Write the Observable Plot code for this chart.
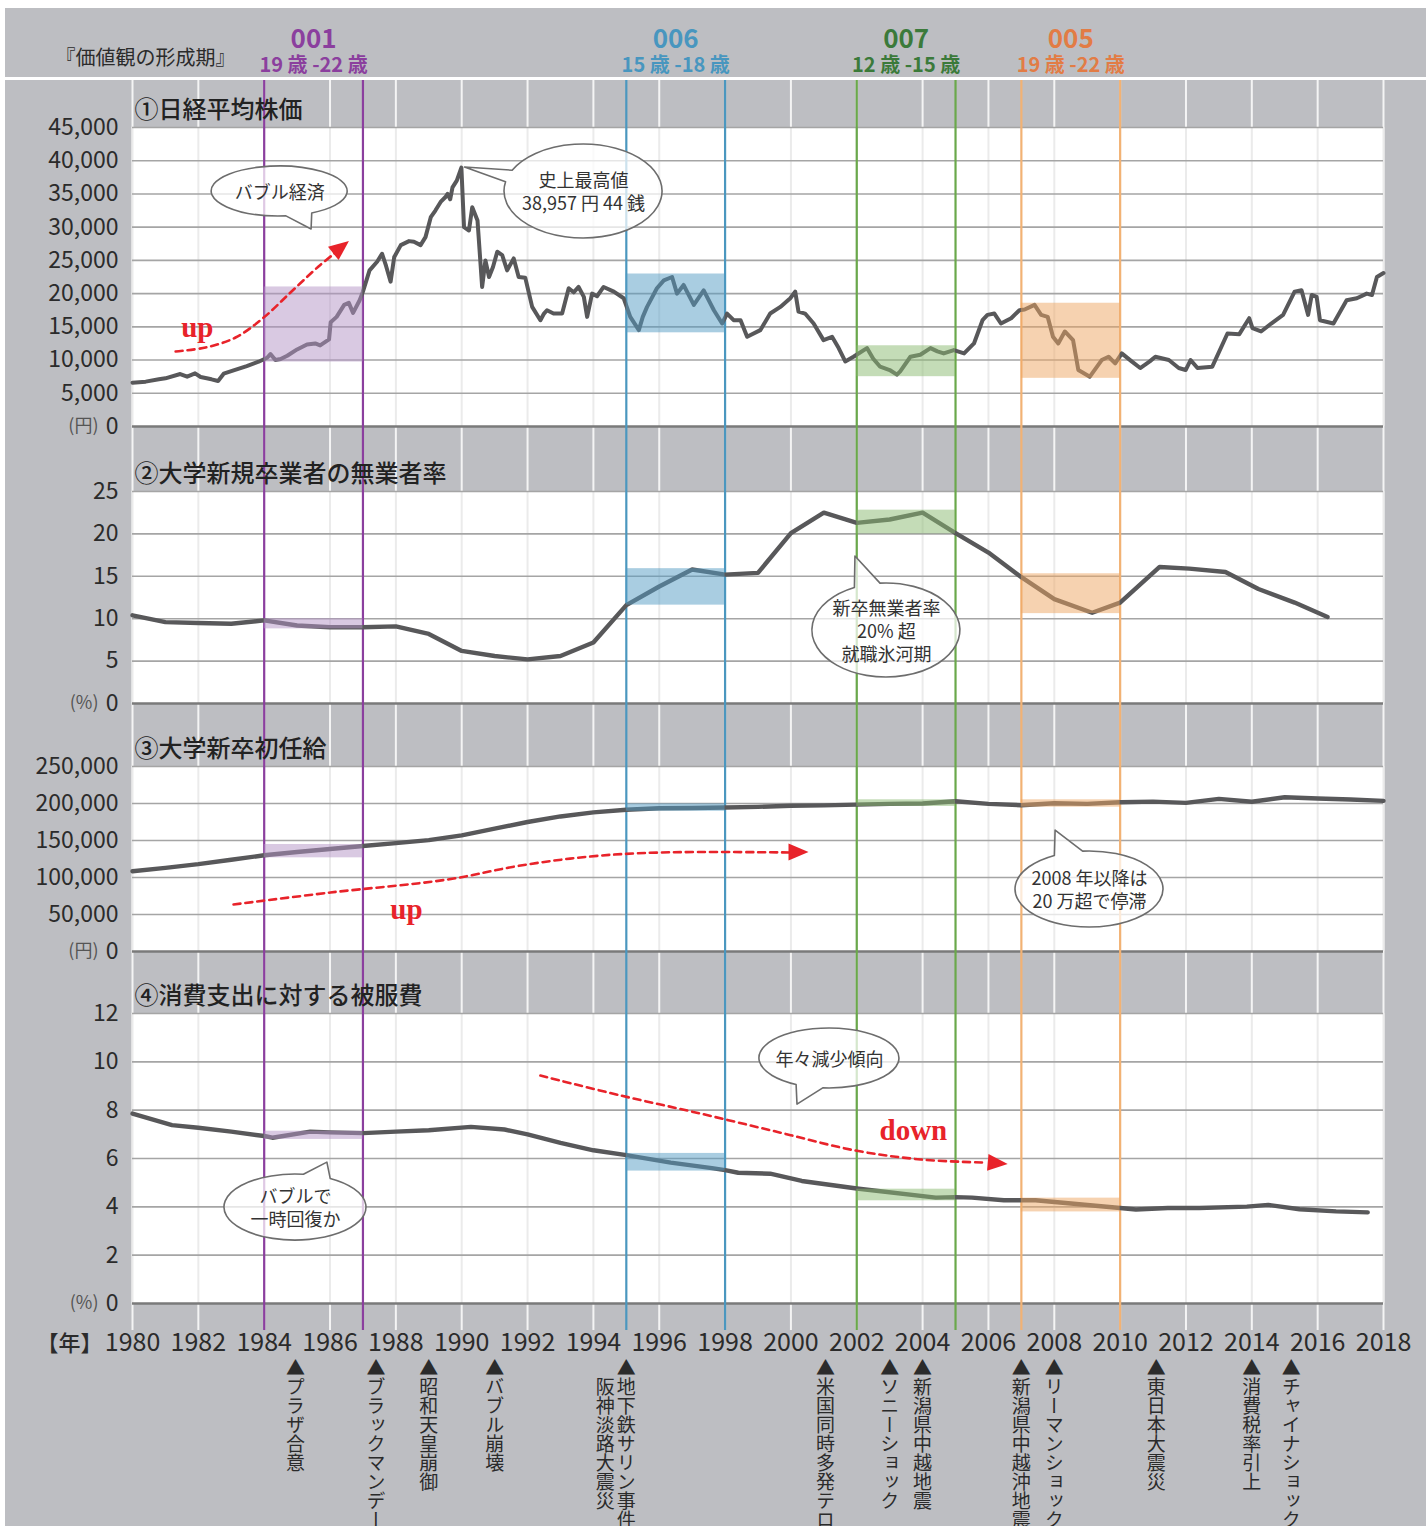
<!DOCTYPE html>
<html><head><meta charset="utf-8">
<script src="https://cdn.jsdelivr.net/npm/d3@7"></script>
<script src="https://cdn.jsdelivr.net/npm/@observablehq/plot@0.6"></script>
<style>
body{margin:0;background:#fff;}
#wrap{position:absolute;left:5px;top:8px;width:1421px;background:#bdbec2;font-family:"Noto Sans CJK JP","Noto Sans",sans-serif;}
#wrap svg{display:block;overflow:visible}
.sep{height:3px;background:#fff}
</style></head><body><div id="wrap"></div>
<script>
// ---------- data ----------
const evenYears = d3.range(1980, 2019, 2);

const periodIds = ["001", "006", "007", "005"];
const periodAges = ["19 歳 -22 歳", "15 歳 -18 歳", "12 歳 -15 歳", "19 歳 -22 歳"];
const periodStart = [1984, 1995, 2002, 2007];
const periodEnd = [1987, 1998, 2005, 2010];

const nikkei = [
  [1980.0,6600],[1980.4,6750],[1980.8,7100],[1981.0,7250],[1981.45,7900],[1981.66,7500],[1981.9,8000],
  [1982.07,7450],[1982.4,7100],[1982.6,6850],[1982.77,7950],[1983.07,8450],[1983.47,9100],[1983.83,9750],
  [1984.09,10350],[1984.19,10900],[1984.34,10000],[1984.5,10150],[1984.7,10650],[1985.0,11600],[1985.3,12350],
  [1985.55,12500],[1985.7,12200],[1985.97,13100],[1986.02,15700],[1986.2,16500],[1986.43,18300],[1986.57,18600],
  [1986.7,17100],[1986.9,19000],[1987.0,20300],[1987.2,23500],[1987.43,24800],[1987.58,26000],[1987.7,24200],
  [1987.84,21800],[1987.95,25500],[1988.15,27300],[1988.4,27900],[1988.55,27800],[1988.75,27300],[1988.9,28500],
  [1989.06,31500],[1989.2,32500],[1989.36,33800],[1989.5,34500],[1989.57,35000],[1989.65,34200],[1989.72,36000],
  [1989.85,37000],[1989.99,38957],[1990.07,30000],[1990.22,29500],[1990.32,33000],[1990.48,31000],[1990.62,21000],
  [1990.72,25000],[1990.83,22500],[1990.95,24000],[1991.08,26300],[1991.23,25800],[1991.38,23500],[1991.58,25300],
  [1991.73,22500],[1991.93,22400],[1992.14,18000],[1992.39,16000],[1992.5,17000],[1992.59,17500],[1992.79,17000],
  [1993.05,17000],[1993.25,20800],[1993.4,20200],[1993.55,21000],[1993.71,19500],[1993.81,16500],[1993.96,20000],
  [1994.11,19600],[1994.31,21000],[1994.62,20300],[1994.92,19300],[1995.12,16500],[1995.38,14500],[1995.5,16500],
  [1995.63,18000],[1995.93,20800],[1996.14,22000],[1996.39,22500],[1996.54,20000],[1996.74,21300],[1997.05,18300],
  [1997.35,20500],[1997.66,17500],[1997.91,15500],[1998.06,17000],[1998.26,16000],[1998.47,16000],[1998.67,13500],
  [1999.07,14500],[1999.37,17000],[1999.68,18000],[1999.98,19300],[2000.13,20300],[2000.23,17300],[2000.43,17000],
  [2000.69,15500],[2000.99,13000],[2001.25,13500],[2001.45,11800],[2001.65,9800],[2001.9,10500],[2002.31,11800],
  [2002.5,10200],[2002.71,9000],[2003.0,8500],[2003.22,7800],[2003.32,8300],[2003.63,10500],[2003.93,10800],
  [2004.24,11800],[2004.45,11300],[2004.64,11000],[2004.95,11500],[2005.26,11000],[2005.56,12500],[2005.82,16000],
  [2005.97,16800],[2006.18,17000],[2006.38,15500],[2006.69,16300],[2006.94,17500],[2007.1,17600],[2007.4,18300],
  [2007.6,16800],[2007.8,16500],[2007.96,13500],[2008.12,12500],[2008.32,14300],[2008.57,13000],[2008.73,8500],
  [2009.08,7500],[2009.44,10000],[2009.65,10500],[2009.85,9500],[2010.05,11000],[2010.35,9800],[2010.61,8800],
  [2010.9,9800],[2011.07,10500],[2011.48,10000],[2011.78,8800],[2011.99,8500],[2012.14,10000],[2012.35,8800],
  [2012.8,9000],[2013.26,14000],[2013.62,13900],[2013.92,16300],[2014.02,14800],[2014.28,14300],[2014.59,15500],
  [2014.95,16800],[2015.3,20300],[2015.51,20500],[2015.71,16800],[2015.82,19800],[2015.97,19500],[2016.07,16000],
  [2016.48,15500],[2016.88,19000],[2017.19,19300],[2017.49,20000],[2017.65,19800],[2017.8,22500],[2018.0,23100]
];
const unemployment = [
  [1980,10.4],[1981,9.6],[1982,9.5],[1983,9.4],[1984,9.8],[1985,9.2],[1986,9.0],[1987,9.0],[1988,9.1],
  [1989,8.2],[1990,6.2],[1991,5.6],[1992,5.2],[1993,5.6],[1994,7.2],[1995,11.6],[1996,13.8],[1997,15.8],
  [1998,15.2],[1999,15.4],[2000,20.1],[2001,22.5],[2002,21.3],[2003,21.7],[2004,22.5],[2005,20.1],[2006,17.8],
  [2007,14.9],[2008,12.3],[2009.15,10.7],[2010,11.9],[2011.2,16.1],[2012.1,15.9],[2013.2,15.5],[2014.2,13.5],
  [2015.3,11.9],[2016.3,10.2]
];
const salary = [
  [1980,108500],[1981,113000],[1982,118000],[1983,124000],[1984,130000],[1985,134500],[1986,138500],
  [1987,142500],[1988,146500],[1989,150500],[1990,157000],[1991,166000],[1992,175000],[1993,182500],
  [1994,188000],[1995,191500],[1996,193500],[1997,194000],[1998,194500],[1999,195500],[2000,197000],
  [2001,197500],[2002,198500],[2003,199500],[2004,200000],[2005,203000],[2006,199500],[2007,197700],
  [2008,200400],[2009,199500],[2010,201700],[2011,202500],[2012,200900],[2013,206300],[2014,202300],
  [2015,208500],[2016,206700],[2017,205400],[2018,203600]
];
const clothing = [
  [1980,7.86],[1981.2,7.38],[1982,7.27],[1983,7.11],[1984,6.93],[1984.25,6.86],[1985.4,7.11],[1986,7.08],
  [1987,7.05],[1988,7.11],[1989,7.17],[1990.28,7.31],[1991.3,7.2],[1992,7.0],[1993,6.65],[1994,6.34],
  [1995,6.14],[1996.35,5.83],[1997.6,5.6],[1998,5.52],[1998.4,5.41],[1999.37,5.37],[2000.33,5.07],[2002,4.76],
  [2004.4,4.38],[2005,4.4],[2005.5,4.38],[2006.47,4.27],[2007.43,4.27],[2010,3.95],[2010.48,3.89],
  [2011.45,3.95],[2012.4,3.95],[2013.85,4.01],[2014.5,4.08],[2015.45,3.9],[2016.56,3.81],[2017.52,3.77]
];

// highlight band value ranges for each period (low, high)
const nikkeiBands = [[9700,21000],[14100,22950],[7500,12150],[7250,18550]];
const unemploymentBands = [[8.8,10.0],[11.6,15.9],[20.0,22.8],[10.6,15.3]];
const salaryBands = [[126600,144600],[189500,199500],[196000,205000],[195000,205000]];
const clothingBands = [[6.79,7.13],[5.48,6.21],[4.25,4.73],[3.79,4.36]];

const eventYears = [1984.95, 1987.4, 1989, 1991, 1995, 2001.05, 2003, 2004, 2007, 2008, 2011.1, 2014, 2015.2];
const eventLabels = ["プラザ合意","ブラックマンデー","昭和天皇崩御","バブル崩壊","地下鉄サリン事件\n阪神淡路大震災",
  "米国同時多発テロ","ソニーショック","新潟県中越地震","新潟県中越沖地震","リーマンショック","東日本大震災","消費税率引上","チャイナショック"];

// annotation anchors (data coordinates)
const nikkeiUpArrow = [[1981.31,11290],[1982.22,11890],[1983.13,13390],[1983.95,16250],[1984.8,20170],[1985.65,24080],[1986.17,26190],[1986.59,27840]];
const salaryUpArrow = [[1983.07,63500],[1986.01,79700],[1989.57,97300],[1991.79,116200],[1993.91,128400],[1996.04,133800],[1999.99,133800],[2000.55,133800]];
const clothingDownArrow = [[1992.39,9.43],[1994.82,8.61],[1997.25,7.86],[1999.68,7.07],[2001.96,6.33],[2003.94,5.96],[2005.91,5.83],[2006.6,5.75]];

// ---------- styles ----------
const W = 1421, ML = 127, MR = 43;
const FONT = '"Noto Sans CJK JP","Noto Sans",sans-serif';
const RED = "#e8232a";
const lineColors = ["#8b3f9e","#4b97bf","#6aa84b","#f2b274"];
const textColors = ["#8b3f9e","#4896bf","#3b7a3a","#e27c45"];
const fillColors = ["#b393c5","#539bc3","#89b96f","#eda561"];
const style = {background: "transparent", fontFamily: FONT, color: "#2b2b2b", overflow: "visible"};

const periods = periodIds.map((id, i) => ({
  id, ages: periodAges[i], start: periodStart[i], end: periodEnd[i], mid: (periodStart[i] + periodEnd[i]) / 2,
  line: lineColors[i], text: textColors[i], fill: fillColors[i]
}));
const bounds = periods.flatMap(p => [{year: p.start, color: p.line}, {year: p.end, color: p.line}]);

function bubbleShape(b) {
  return (index, s) => {
    const cx = s.x(b.x), cy = s.y(b.y), tx = s.x(b.tx), ty = s.y(b.ty);
    const ang = Math.atan2((ty - cy) / b.ry, (tx - cx) / b.rx);
    const P = a => [cx + b.rx * Math.cos(a), cy + b.ry * Math.sin(a)];
    const p1 = P(ang + b.sp), p2 = P(ang - b.sp);
    return d3.create("svg:path")
      .attr("d", `M${p1[0]},${p1[1]}A${b.rx},${b.ry} 0 1 1 ${p2[0]},${p2[1]}L${tx},${ty}Z`)
      .attr("fill", "#fff").attr("fill-opacity", 0.72)
      .attr("stroke", "#6d6d6d").attr("stroke-width", 1.6).attr("stroke-linejoin", "round")
      .node();
  };
}
function bubbleMarks(list) {
  return [
    ...list.map(bubbleShape),
    Plot.text(list, {x: "x", y: "y", text: "text", fontSize: 18, lineHeight: 1.28, fill: "#333"})
  ];
}
function arrowHead(pts, len, wid) {
  return (index, s) => {
    const n = pts.length;
    const ax = s.x(pts[n-2][0]), ay = s.y(pts[n-2][1]), bx = s.x(pts[n-1][0]), by = s.y(pts[n-1][1]);
    const L = Math.hypot(bx - ax, by - ay), ux = (bx - ax) / L, uy = (by - ay) / L;
    const cx = bx - ux * len, cy = by - uy * len;
    return d3.create("svg:path")
      .attr("d", `M${bx},${by}L${cx - uy * wid / 2},${cy + ux * wid / 2}L${cx + uy * wid / 2},${cy - ux * wid / 2}Z`)
      .attr("fill", RED).node();
  };
}
function arrowMarks(pts, word, wordPos) {
  return [
    Plot.line(pts.slice(0, -1), {x: d => d[0], y: d => d[1], stroke: RED, strokeWidth: 2.6, strokeDasharray: "7,5", curve: "catmull-rom"}),
    arrowHead(pts, 20, 17),
    Plot.text([word], {x: [wordPos[0]], y: [wordPos[1]], text: d => d, fill: RED, fontSize: 29, fontWeight: "bold", fontFamily: '"Liberation Serif","DejaVu Serif",serif'})
  ];
}

function panel(cfg) {
  const {title, unit, series, domain, ticks, fmt, bands, lw, mt, ph, mb, ext, extra = [], xAxis = []} = cfg;
  const rects = periods.map((p, i) => ({...p, lo: bands[i][0], hi: bands[i][1]}));
  return Plot.plot({
    width: W, height: mt + ph + mb,
    marginLeft: ML, marginRight: MR, marginTop: mt, marginBottom: mb,
    x: cfg.showX ? {domain: [1980, 2018]} : {domain: [1980, 2018], axis: null},
    y: {domain},
    color: {type: "identity"},
    style,
    marks: [
      Plot.ruleX(evenYears, {stroke: "#f4f4f4", strokeWidth: 2, insetTop: -mt, insetBottom: -ext}),
      Plot.frame({fill: "#fff", stroke: "none"}),
      Plot.ruleX(evenYears, {stroke: "#ebebeb", strokeWidth: 2}),
      Plot.ruleY(ticks.filter(t => t > 0), {stroke: "#a5a5a5", strokeWidth: 1.6}),
      Plot.ruleY([0], {stroke: "#7a7a7a", strokeWidth: 2.6}),
      Plot.ruleX(bounds, {x: "year", stroke: "color", strokeWidth: 2.2, insetTop: -mt, insetBottom: -ext}),
      Plot.line(series, {x: d => d[0], y: d => d[1], stroke: "#58585a", strokeWidth: lw, strokeLinejoin: "round", strokeLinecap: "round"}),
      Plot.rect(rects, {x1: "start", x2: "end", y1: "lo", y2: "hi", fill: "fill", fillOpacity: 0.5}),
      ...extra,
      Plot.axisY({ticks, tickFormat: fmt, tickSize: 0, tickPadding: 14, fontSize: 23, fill: "#2b2b2b", label: null}),
      Plot.text([unit], {frameAnchor: "bottom-left", dx: -34, textAnchor: "end", lineAnchor: "middle", fontSize: 18, fill: "#555"}),
      Plot.text([title], {frameAnchor: "top-left", dx: 2, dy: -17, textAnchor: "start", lineAnchor: "middle", fontSize: 24, fill: "#222", fontWeight: 500}),
      ...xAxis
    ]
  });
}

const wrap = document.getElementById("wrap");

// header
wrap.appendChild(Plot.plot({
  width: W, height: 69, marginLeft: ML, marginRight: MR, marginTop: 0, marginBottom: 0,
  x: {domain: [1980, 2018], axis: null}, color: {type: "identity"}, style,
  marks: [
    Plot.text(periods, {x: "mid", text: "id", frameAnchor: "top", dy: 31, lineAnchor: "middle", fill: "text", fontSize: 26, fontWeight: "bold"}),
    Plot.text(periods, {x: "mid", text: "ages", frameAnchor: "top", dy: 57, lineAnchor: "middle", fill: "text", fontSize: 20, fontWeight: "bold"}),
    Plot.text(["『価値観の形成期』"], {frameAnchor: "top-left", dx: -77, dy: 50, textAnchor: "start", lineAnchor: "middle", fontSize: 20, fill: "#2b2b2b"})
  ]
}));
const sep = document.createElement("div"); sep.className = "sep"; wrap.appendChild(sep);

const comma = d3.format(",");

wrap.appendChild(panel({
  title: "①日経平均株価", unit: "(円)", series: nikkei, domain: [0, 45000], ticks: d3.range(0, 45001, 5000),
  fmt: comma, bands: nikkeiBands, lw: 4, mt: 47, ph: 299, mb: 2, ext: 2,
  extra: [
    ...arrowMarks(nikkeiUpArrow, "up", [1981.97, 14900]),
    ...bubbleMarks([
      {x: 1984.47, y: 35370, rx: 68, ry: 25, tx: 1985.44, ty: 29650, sp: 0.2, text: "バブル経済"},
      {x: 1993.7, y: 35370, rx: 79, ry: 47, tx: 1990.1, ty: 38980, sp: 0.13, text: "史上最高値\n38,957 円 44 銭"}
    ])
  ]
}));
wrap.appendChild(panel({
  title: "②大学新規卒業者の無業者率", unit: "(%)", series: unemployment, domain: [0, 25], ticks: [0,5,10,15,20,25],
  fmt: d => String(d), bands: unemploymentBands, lw: 4.4, mt: 63, ph: 212, mb: 2, ext: 2,
  extra: bubbleMarks([
    {x: 2002.9, y: 8.61, rx: 74, ry: 47, tx: 2001.96, ty: 17.33, sp: 0.18, text: "新卒無業者率\n20% 超\n就職氷河期"}
  ])
}));
wrap.appendChild(panel({
  title: "③大学新卒初任給", unit: "(円)", series: salary, domain: [0, 250000], ticks: d3.range(0, 250001, 50000),
  fmt: comma, bands: salaryBands, lw: 4.4, mt: 61, ph: 185, mb: 2, ext: 2,
  extra: [
    ...arrowMarks(salaryUpArrow, "up", [1988.32, 56760]),
    ...bubbleMarks([
      {x: 2009.07, y: 83800, rx: 74, ry: 38, tx: 2008.04, ty: 163500, sp: 0.2, text: "2008 年以降は\n20 万超で停滞"}
    ])
  ]
}));

const eventCols = [], eventCols2 = [];
eventLabels.forEach((lab, i) => {
  const parts = lab.split("\n");
  eventCols.push({year: eventYears[i], text: "▲" + parts[0]});
  parts.slice(1).forEach(p => eventCols2.push({year: eventYears[i], text: p}));
});

const p4 = panel({
  title: "④消費支出に対する被服費", unit: "(%)", series: clothing, domain: [0, 12], ticks: [0,2,4,6,8,10,12],
  fmt: d => String(d), bands: clothingBands, lw: 4.4, mt: 60, ph: 290, mb: 223, ext: 27, showX: true,
  extra: [
    ...arrowMarks(clothingDownArrow, "down", [2003.72, 7.16]),
    ...bubbleMarks([
      {x: 1984.95, y: 3.97, rx: 71, ry: 33, tx: 1985.92, ty: 5.83, sp: 0.2, text: "バブルで\n一時回復か"},
      {x: 2001.17, y: 10.14, rx: 70, ry: 30, tx: 2000.2, ty: 8.23, sp: 0.2, text: "年々減少傾向"}
    ])
  ],
  xAxis: [
    Plot.axisX({ticks: evenYears, tickFormat: d => String(d), tickSize: 0, tickPadding: 30, fontSize: 25, fill: "#2b2b2b", label: null}),
    Plot.text(["【年】"], {frameAnchor: "bottom-left", dx: -30, dy: 40, textAnchor: "end", lineAnchor: "middle", fontSize: 22, fill: "#2b2b2b", fontWeight: 500}),
    Plot.text(eventCols, {x: "year", text: "text", frameAnchor: "bottom", dy: 55, textAnchor: "start", lineAnchor: "top", fontSize: 19, fill: "#2b2b2b"}),
    Plot.text(eventCols2, {x: "year", text: "text", frameAnchor: "bottom", dx: -21, dy: 74, textAnchor: "start", lineAnchor: "top", fontSize: 19, fill: "#2b2b2b"})
  ]
});
const evTexts = new Set([...eventCols, ...eventCols2].map(d => d.text));
d3.select(p4).selectAll("text").filter(function() { return evTexts.has(this.textContent); })
  .style("writing-mode", "vertical-rl").attr("y", null).attr("dy", null);
wrap.appendChild(p4);
</script>
</body></html>
